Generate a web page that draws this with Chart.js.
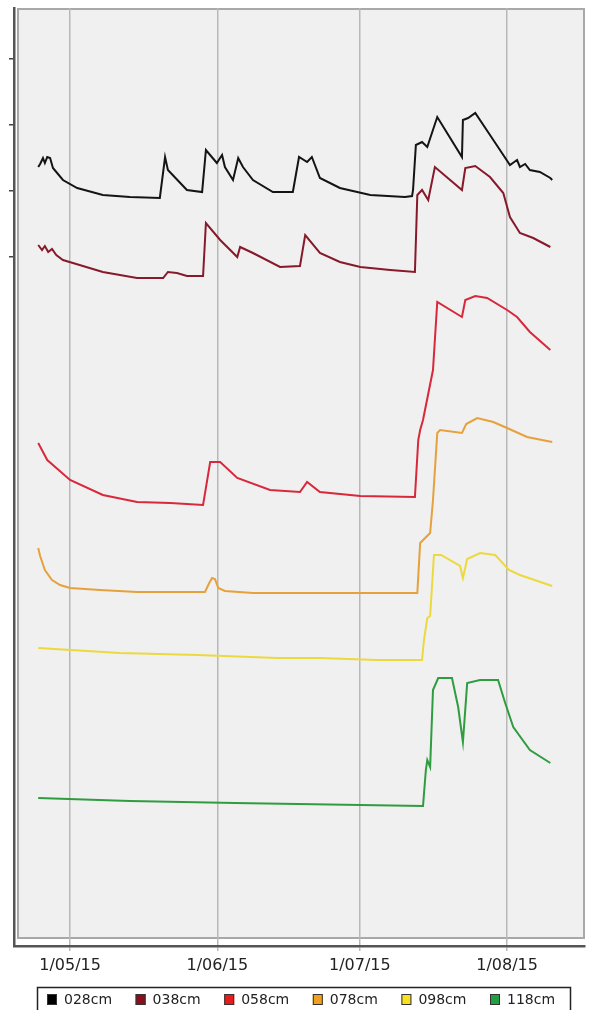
<!DOCTYPE html>
<html>
<head>
<meta charset="utf-8">
<script src="https://cdn.jsdelivr.net/npm/chart.js@4.4.1/dist/chart.umd.min.js"></script>
<style>
  html, body { margin: 0; padding: 0; background: #fff; }
  #chart { display: block; }
</style>
</head>
<body>
<canvas id="chart" width="589" height="1010"></canvas>
<script>
// x = days since 1 May 2015, y = sensor reading (axis units, labels cropped in source)
const SERIES = ['028cm', '038cm', '058cm', '078cm', '098cm', '118cm'];
const X_TICKS = [0, 31, 61, 92];
const X_LABELS = ['1/05/15', '1/06/15', '1/07/15', '1/08/15'];
const Y_TICKS = [68.0, 74.6, 81.2, 87.8];

const S028 = [[-6.7,77.0],[-6.3,77.3],[-5.7,77.9],[-5.3,77.4],[-4.8,78.0],[-4.2,77.9],[-3.6,76.9],[-1.5,75.7],[1.5,74.9],
  [6.9,74.2],[12.6,74.0],[18.9,73.9],[20.0,78.0],[20.6,76.7],[24.6,74.7],[27.8,74.5],[28.6,78.7],[30.9,77.4],[32.0,78.2],
  [32.6,77.0],[34.3,75.7],[35.4,77.9],[36.4,77.0],[38.5,75.7],[42.7,74.5],[46.9,74.5],[48.2,78.0],[49.9,77.5],[50.9,78.0],
  [52.6,75.9],[56.8,74.9],[63.2,74.2],[70.5,74.0],[72.0,74.1],[72.2,74.7],[72.8,79.2],[74.1,79.5],[75.2,79.0],[77.3,82.0],
  [82.5,78.0],[82.7,81.7],[83.8,81.9],[85.3,82.4],[88.4,80.2],[91.2,78.2],[92.6,77.2],[93.5,77.5],[94.1,77.7],[94.7,77.0],
  [95.8,77.3],[96.8,76.7],[98.9,76.5],[101.1,75.9],[101.5,75.7]];
const S038 = [[-6.7,69.2],[-5.9,68.7],[-5.3,69.1],[-4.6,68.5],[-3.8,68.8],[-2.9,68.2],[-1.5,67.7],[0.6,67.4],[6.9,66.5],
  [14.1,65.9],[19.6,65.9],[20.6,66.5],[22.5,66.4],[24.6,66.1],[28.0,66.1],[28.6,71.4],[31.6,69.7],[35.2,68.0],[35.8,69.0],
  [38.5,68.4],[44.2,67.0],[48.4,67.1],[49.5,70.2],[52.6,68.4],[56.8,67.5],[61.1,67.0],[67.4,66.7],[72.6,66.5],[73.1,74.2],
  [74.1,74.7],[75.4,73.7],[76.8,77.0],[82.5,74.7],[83.2,76.9],[85.3,77.1],[88.4,76.0],[91.2,74.4],[92.6,72.0],[94.7,70.4],
  [97.5,69.9],[101.1,69.0]];
const S058 = [[-6.7,49.4],[-4.8,47.7],[0,45.7],[6.9,44.2],[14.1,43.5],[21.1,43.4],[28.0,43.2],[29.5,47.5],[31.6,47.5],
  [35.2,45.9],[42.1,44.7],[48.4,44.5],[49.9,45.5],[52.6,44.5],[61.1,44.1],[72.6,44.0],[73.3,49.7],[73.7,50.7],[74.3,51.7],
  [76.4,56.7],[77.3,63.5],[82.5,62.0],[83.2,63.7],[85.3,64.1],[87.8,63.9],[92.0,62.7],[94.1,62.0],[96.8,60.5],[101.1,58.7]];
const S078 = [[-6.7,38.9],[-6.3,38.1],[-5.3,36.7],[-3.8,35.7],[-2.1,35.2],[0,34.9],[6.3,34.7],[14.1,34.5],[28.4,34.5],
  [29.3,35.4],[29.9,35.9],[30.5,35.8],[31.2,34.9],[32.6,34.6],[38.5,34.4],[52.6,34.4],[73.1,34.4],[73.7,39.4],[75.8,40.4],
  [76.4,43.7],[77.3,50.4],[77.9,50.7],[82.5,50.4],[83.4,51.3],[85.7,51.9],[89.1,51.5],[92.0,50.9],[96.2,50.0],[101.5,49.5]];
const S098 = [[-6.7,28.9],[10.5,28.4],[26.9,28.2],[43.6,27.9],[52.6,27.9],[64.6,27.7],[74.1,27.7],[74.5,29.7],[75.2,31.9],
  [75.8,32.1],[76.6,38.2],[78.1,38.2],[82.1,37.1],[82.7,35.9],[83.6,37.8],[86.3,38.4],[89.5,38.2],[92.4,36.7],[94.7,36.2],
  [101.5,35.1]];
const S118 = [[-6.7,13.9],[12.6,13.6],[34.7,13.4],[61.1,13.2],[74.3,13.1],[74.9,16.7],[75.2,17.7],[75.8,17.0],[76.4,24.7],
  [77.5,25.9],[80.4,25.9],[81.7,23.0],[82.7,19.5],[83.6,25.4],[86.3,25.7],[90.1,25.7],[91.6,23.4],[93.3,21.0],[96.8,18.7],
  [101.1,17.4]];

const LINE_COLORS = ['#141414', '#86192a', '#d8283c', '#e6a13c', '#ecd93e', '#2f9c3f'];
const KEY_COLORS = ['#000000', '#8b0f1a', '#e81c1c', '#f0a020', '#f8e020', '#20a040'];
const FONT = '"DejaVu Sans", Verdana, sans-serif';

const values = [S028, S038, S058, S078, S098, S118];

// grey plot panel behind the lines
const panelPlugin = {
  id: 'panel',
  beforeDraw(chart) {
    const { ctx, chartArea: a } = chart;
    ctx.save();
    ctx.fillStyle = '#ffffff';
    ctx.fillRect(0, 0, chart.width, chart.height);
    ctx.fillStyle = '#f0f0f0';
    ctx.fillRect(a.left + 4, a.top, a.right - a.left - 4, a.bottom - a.top - 8);
    ctx.strokeStyle = '#a8a8a8';
    ctx.lineWidth = 2;
    ctx.strokeRect(a.left + 4, a.top + 1, a.right - a.left - 5, a.bottom - a.top - 9);
    ctx.restore();
  }
};

// boxed legend row under the axis
const keyPlugin = {
  id: 'key',
  afterDraw(chart) {
    const ctx = chart.ctx;
    ctx.save();
    ctx.strokeStyle = '#222';
    ctx.lineWidth = 1.5;
    ctx.strokeRect(37.5, 987.5, 533, 30);
    ctx.font = '14px ' + FONT;
    ctx.textBaseline = 'middle';
    SERIES.forEach((name, i) => {
      const x = 47 + i * 88.6;
      ctx.fillStyle = KEY_COLORS[i];
      ctx.fillRect(x, 994, 10, 11);
      ctx.strokeStyle = '#333';
      ctx.lineWidth = 1;
      ctx.strokeRect(x + 0.5, 994.5, 9, 10);
      ctx.fillStyle = '#222';
      ctx.fillText(name, x + 17, 1000);
    });
    ctx.restore();
  }
};

new Chart(document.getElementById('chart'), {
  type: 'line',
  data: {
    datasets: SERIES.map((name, i) => ({
      label: name,
      data: values[i].map(p => ({ x: p[0], y: p[1] })),
      borderColor: LINE_COLORS[i],
      borderWidth: 2,
      pointRadius: 0,
      tension: 0,
      fill: false
    }))
  },
  options: {
    responsive: false,
    animation: false,
    devicePixelRatio: 1,
    layout: { padding: { left: 9, top: 8, right: 4, bottom: 34 } },
    plugins: { legend: { display: false }, tooltip: { enabled: false } },
    scales: {
      x: {
        type: 'linear',
        min: -11.8,
        max: 108.4,
        afterBuildTicks: s => { s.ticks = X_TICKS.map(v => ({ value: v })); },
        afterFit: s => { s.height = 30; },
        ticks: {
          autoSkip: false,
          maxRotation: 0,
          padding: 5,
          color: '#222',
          font: { family: FONT, size: 16 },
          callback: v => X_LABELS[X_TICKS.indexOf(v)]
        },
        grid: { color: '#b8b8b8', lineWidth: 1.5, drawTicks: true, tickLength: 5 },
        border: { display: true, color: '#555', width: 2.5 }
      },
      y: {
        type: 'linear',
        min: -0.9,
        max: 92.9,
        afterBuildTicks: s => { s.ticks = Y_TICKS.map(v => ({ value: v })); },
        afterFit: s => { s.width = 5; },
        ticks: { display: false },
        grid: { drawOnChartArea: false, drawTicks: true, tickLength: 5, color: '#444', lineWidth: 1.5 },
        border: { display: true, color: '#555', width: 2.5 }
      }
    }
  },
  plugins: [panelPlugin, keyPlugin]
});
</script>
</body>
</html>
